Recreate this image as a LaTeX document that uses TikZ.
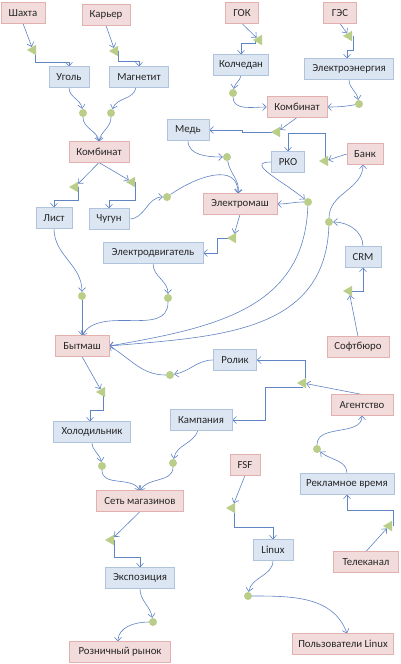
\documentclass[tikz,border=0pt]{standalone}
\usepackage{fontspec}
\setmainfont{Carlito}
\usetikzlibrary{arrows.meta,shapes.geometric,backgrounds}
\definecolor{pinkfill}{RGB}{242,220,219}
\definecolor{pinkline}{RGB}{226,176,174}
\definecolor{bluefill}{RGB}{220,230,242}
\definecolor{blueline}{RGB}{176,195,220}
\definecolor{conncol}{RGB}{96,132,196}
\definecolor{greenmark}{RGB}{186,206,138}
\definecolor{txtcol}{RGB}{38,38,38}
\begin{document}
\begin{tikzpicture}[x=1pt,y=1pt,
 nbox/.style={draw, line width=0.6pt, minimum height=20.5pt, inner sep=0pt, font=\fontsize{10.8}{12}\selectfont, text=txtcol},
 pbox/.style={nbox, fill=pinkfill, draw=pinkline},
 bbox/.style={nbox, fill=bluefill, draw=blueline},
 tri/.style={regular polygon, regular polygon sides=3, shape border rotate=90, minimum size=12pt, inner sep=0pt, fill=greenmark, draw=none},
 gdot/.style={circle, minimum size=8pt, inner sep=0pt, fill=greenmark},
 link/.style={draw=conncol, line width=0.6pt, -{Straight Barb[length=3.8pt,width=7pt]}},
]
\useasboundingbox (0,0) rectangle (400,-664);
% pink nodes
\node[pbox, minimum width=44pt] (shakhta) at (23,-13) {Шахта};
\node[pbox, minimum width=48pt] (karier) at (106,-15) {Карьер};
\node[pbox, minimum width=33pt] (gok) at (242,-13) {ГОК};
\node[pbox, minimum width=33pt] (ges) at (340,-13) {ГЭС};
\node[pbox, minimum width=60pt] (kombL) at (99,-152) {Комбинат};
\node[pbox, minimum width=60pt] (kombR) at (297,-107) {Комбинат};
\node[pbox, minimum width=36pt] (bank) at (365,-154) {Банк};
\node[pbox, minimum width=74pt] (elmash) at (240,-204) {Электромаш};
\node[pbox, minimum width=62pt] (softb) at (358,-347) {Софтбюро};
\node[pbox, minimum width=54pt] (bytmash) at (82,-346) {Бытмаш};
\node[pbox, minimum width=62pt] (agent) at (362,-405) {Агентство};
\node[pbox, minimum width=30pt] (fsf) at (245,-465) {FSF};
\node[pbox, minimum width=87pt] (setm) at (140,-501) {Сеть магазинов};
\node[pbox, minimum width=65pt] (telek) at (366,-562) {Телеканал};
\node[pbox, minimum width=101pt] (rozn) at (120,-652) {Розничный рынок};
\node[pbox, minimum width=101pt] (polz) at (343,-644) {Пользователи Linux};
% blue nodes
\node[bbox, minimum width=40pt] (ugol) at (69,-77) {Уголь};
\node[bbox, minimum width=59pt] (magn) at (139,-77) {Магнетит};
\node[bbox, minimum width=55pt] (kolch) at (241,-65) {Колчедан};
\node[bbox, minimum width=89pt] (elen) at (349,-69) {Электроэнергия};
\node[bbox, minimum width=42pt] (med) at (188,-130) {Медь};
\node[bbox, minimum width=33pt] (rko) at (288,-162) {РКО};
\node[bbox, minimum width=36pt] (list) at (54,-218) {Лист};
\node[bbox, minimum width=40pt] (chug) at (109,-219) {Чугун};
\node[bbox, minimum width=100pt] (eldv) at (153,-253) {Электродвигатель};
\node[bbox, minimum width=36pt] (crm) at (363,-257) {CRM};
\node[bbox, minimum width=43pt] (rolik) at (235,-360) {Ролик};
\node[bbox, minimum width=62pt] (kamp) at (201,-420) {Кампания};
\node[bbox, minimum width=77pt] (khol) at (92,-432) {Холодильник};
\node[bbox, minimum width=94pt] (rekl) at (347,-484) {Рекламное время};
\node[bbox, minimum width=40pt] (linux) at (273,-550) {Linux};
\node[bbox, minimum width=69pt] (expo) at (140,-578) {Экспозиция};
% triangles
\node[tri] (tA) at (33,-50) {};
\node[tri] (tB) at (115,-51) {};
\node[tri] (tC) at (259,-40) {};
\node[tri] (tD) at (349,-36) {};
\node[tri] (tE) at (277,-132) {};
\node[tri] (tF) at (325,-161) {};
\node[tri] (tG) at (75,-187) {};
\node[tri] (tH) at (132,-182) {};
\node[tri] (tI) at (233,-238) {};
\node[tri] (tJ) at (349,-291) {};
\node[tri] (tK) at (102,-392) {};
\node[tri] (tL) at (303,-383) {};
\node[tri] (tM) at (389,-526) {};
\node[tri] (tN) at (232,-508) {};
\node[tri] (tO) at (111,-540) {};
% circles
\node[gdot] (cA) at (83,-113) {};
\node[gdot] (cB) at (111,-113) {};
\node[gdot] (cC) at (233,-93) {};
\node[gdot] (cD) at (359,-104) {};
\node[gdot] (cE) at (227,-157) {};
\node[gdot] (cF) at (167,-197) {};
\node[gdot] (cG) at (308,-202) {};
\node[gdot] (cH) at (329,-222) {};
\node[gdot] (cI) at (82,-296) {};
\node[gdot] (cJ) at (168,-298) {};
\node[gdot] (cK) at (170,-375) {};
\node[gdot] (cL) at (317,-449) {};
\node[gdot] (cM) at (102,-466) {};
\node[gdot] (cN) at (173,-463) {};
\node[gdot] (cO) at (153,-622) {};
\node[gdot] (cP) at (248,-596) {};

\begin{pgfonlayer}{background}
\fill[white] (0,0) rectangle (400,-664);
% into triangles
\draw[link] (shakhta.south) -- (tA);
\draw[link] (karier.south) -- (tB);
\draw[link] (gok.south) -- (tC);
\draw[link] (ges.south) -- (tD);
\draw[link] (kombR.south) -- (tE);
\draw[link] (bank.west) -- (tF);
\draw[link] (kombL.south) -- (tG);
\draw[link] (kombL.south) -- (tH);
\draw[link] (elmash.south) -- (tI);
\draw[link] (softb.north) -- (tJ);
\draw[link] (bytmash.south) -- (tK);
\draw[link] (agent.north) -- (tL);
\draw[link] (telek.north) -- (tM);
\draw[link] (fsf.south) -- (tN);
\draw[link] (setm.south) -- (tO);
% out of triangles (elbows)
\draw[link] ([xshift=2pt]tA.center) -- ++(0,-12) -| (ugol);
\draw[link] ([xshift=3pt]tB.center) -- ++(0,-10) -| (magn);
\draw[link] ([xshift=-4pt]tC.center) -- ++(0,-3) -| (kolch);
\draw[link] ([xshift=4pt]tD.center) -- ++(0,-14) -| ([xshift=-2pt]elen.north);
\draw[link] (tE.center) -- ++(-35,0) |- (med);
\draw[link] (tF.center) -- ++(0,28) -| (rko);
\draw[link] ([xshift=3pt]tG.center) -- ++(0,-13) -| (list);
\draw[link] ([xshift=3pt]tH.center) -- ++(0,-18) -| (chug);
\draw[link] (tI.center) -- ++(-16,0) |- (eldv);
\draw[link] (tJ.center) -| (crm);
\draw[link] ([xshift=1pt]tK.center) -- ++(0,-18) -| ([xshift=-2pt]khol.north);
\draw[link] ([xshift=2pt]tL.center) |- (rolik);
\draw[link] ([yshift=-4pt]tL.center) -- ++(-38,0) |- (kamp);
\draw[link] ([xshift=4pt]tM.center) -- ++(0,16) -| (rekl);
\draw[link] ([xshift=2pt]tN.center) -- ++(0,-19) -| (linux);
\draw[link] ([xshift=3pt]tO.center) -- ++(0,-17) -| (expo);
% into circles
\draw[link] (ugol.south) to[out=270,in=100] (cA);
\draw[link] ([xshift=-3pt]magn.south) to[out=260,in=70] (cB);
\draw[link] (kolch.south) to[out=260,in=80] (cC);
\draw[link] (elen.south) to[out=270,in=100] (cD);
\draw[link] (med.south) to[out=270,in=180] (cE);
\draw[link] (chug.east) to[out=0,in=180] (cF);
\draw[link] (rko.west) to[out=180,in=140,looseness=1.4] (cG);
\draw[link] (crm.north) to[out=90,in=0] (cH);
\draw[link] (list.south) to[out=270,in=90] (cI);
\draw[link] (eldv.south) to[out=270,in=90] (cJ);
\draw[link] (rolik.west) to[out=180,in=10] (cK);
\draw[link] (rekl.north) to[out=90,in=-40] (cL);
\draw[link] (khol.south) to[out=270,in=100] (cM);
\draw[link] ([xshift=-3pt]kamp.south) to[out=250,in=80] (cN);
\draw[link] (expo.south) to[out=270,in=100] (cO);
\draw[link] (linux.south) to[out=270,in=80] (cP);
% out of circles
\draw[link] (cA) to[out=270,in=100] (kombL.north);
\draw[link] (cB) to[out=270,in=80] (kombL.north);
\draw[link] (cC) to[out=270,in=180] (kombR);
\draw[link] (cD) to[out=190,in=0] (kombR);
\draw[link] (cE) to[out=280,in=80] ([xshift=-2pt]elmash.north);
\draw[link] (cF) to[out=35,in=90,looseness=1.2] ([xshift=-2pt]elmash.north);
\draw[link] (cG) to[out=180,in=0] (elmash);
\draw[link] (cG) to[out=268,in=10,looseness=1.1] (bytmash.east);
\draw[link] (cH) to[out=90,in=270] ([xshift=-2pt]bank.south);
\draw[link] (cH) to[out=268,in=5,looseness=1.1] (bytmash.east);
\draw[link] (cI) -- (bytmash);
\draw[link] (cJ) to[out=270,in=60] (bytmash.north);
\draw[link] (cK) to[out=180,in=-30] (bytmash.east);
\draw[link] (cL) to[out=90,in=270] (agent.south);
\draw[link] (cM) to[out=270,in=120] (setm.north);
\draw[link] (cN) to[out=270,in=60] (setm.north);
\draw[link] (cO) to[out=180,in=90] ([xshift=-2pt]rozn.north);
\draw[link] (cP) to[out=0,in=110] ([xshift=4pt]polz.north);
\end{pgfonlayer}
\end{tikzpicture}
\end{document}
